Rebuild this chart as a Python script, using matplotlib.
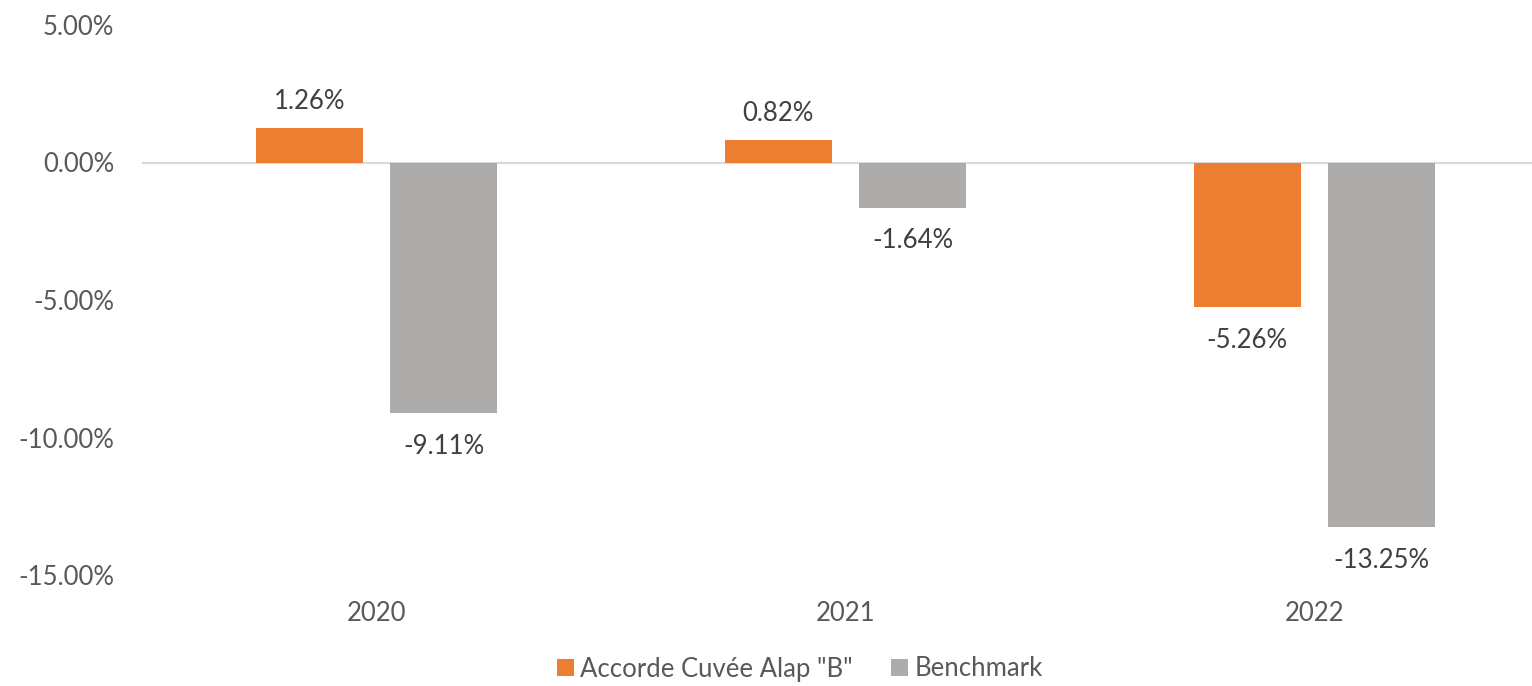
import matplotlib.pyplot as plt
import numpy as np
from matplotlib.ticker import FuncFormatter

# Data
years = ['2020', '2021', '2022']
fund = [1.26, 0.82, -5.26]
bench = [-9.11, -1.64, -13.25]
series_names = ['Accorde Cuvée Alap "B"', 'Benchmark']

orange = '#ED7D31'
grey = '#AEABAB'
fs = 18.5

plt.rcParams['font.family'] = ['Lato', 'DejaVu Sans']

fig = plt.figure(figsize=(15.32, 6.86), dpi=100)
ax = fig.add_axes([142 / 1532, 111 / 686, 1407 / 1532, 550 / 686])

x = np.arange(len(years))
w = 0.227
off = 0.143
b1 = ax.bar(x - off, fund, w, color=orange, label=series_names[0], zorder=2)
b2 = ax.bar(x + off, bench, w, color=grey, label=series_names[1], zorder=2)

# data labels
for bars in (b1, b2):
    for rect in bars:
        v = rect.get_height()
        cx = rect.get_x() + rect.get_width() / 2
        dy = 19 if v >= 0 else -24
        ax.annotate(f'{v:.2f}%', (cx, v), xytext=(0, dy), textcoords='offset points',
                    ha='center', va='center', fontsize=fs, color='#404040')

ax.axhline(0, color='#D9D9D9', lw=1.5, zorder=1)

ax.set_xlim(-0.5, 2.5)
ax.set_ylim(-15, 5)
ax.set_yticks([5, 0, -5, -10, -15])
ax.yaxis.set_major_formatter(FuncFormatter(lambda v, p: f'{v:.2f}%'))
ax.set_xticks(x)
ax.set_xticklabels(years)

for s in ax.spines.values():
    s.set_visible(False)
ax.tick_params(axis='both', length=0, labelsize=fs, labelcolor='#595959')
ax.tick_params(axis='y', pad=20)
ax.tick_params(axis='x', pad=19)

fig.legend(loc='center', bbox_to_anchor=(800 / 1532, 1 - 669 / 686), ncol=2,
           frameon=False, fontsize=fs, handlelength=0.65, handleheight=0.65,
           handletextpad=0.25, columnspacing=1.5, labelcolor='#595959')

fig.savefig('out.png', dpi=100)
